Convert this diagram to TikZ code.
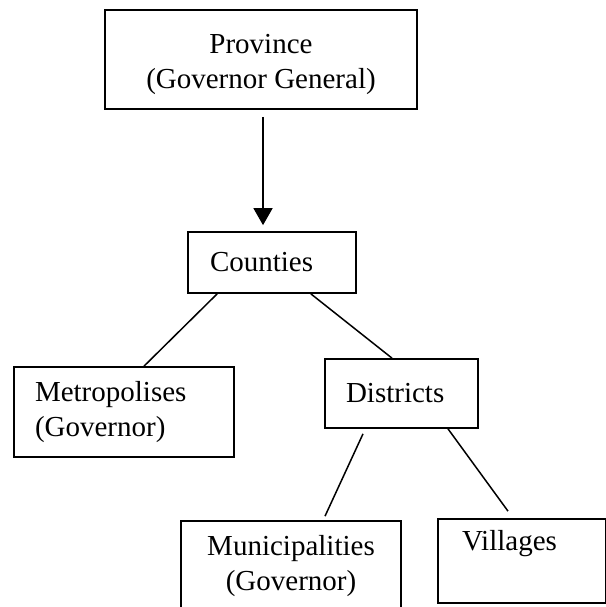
\documentclass[tikz,border=0pt]{standalone}
\usepackage{fontspec}
\setmainfont{Liberation Serif}
\usepackage{tikz}
\usetikzlibrary{arrows.meta}

\begin{document}
\begin{tikzpicture}[
    x=1pt, y=-1pt,
    block/.style={draw, rectangle, line width=1.7pt, inner ysep=0pt,
                  font=\fontsize{29}{35}\selectfont},
    leftblock/.style={block, align=left},
    arrow/.style={line width=1.6pt, -{Triangle[length=17pt, width=19pt]}},
    link/.style={line width=1.5pt}
]
\useasboundingbox (0,0) rectangle (605,607);

% Province at the top
\node[block, align=center, minimum width=312pt, minimum height=99pt,
      text height=64pt, text depth=5pt] (province) at (261,59.5)
  {Province\\(Governor General)};

% Counties
\node[leftblock, inner xsep=22pt, text width=124pt, minimum height=61pt] (counties) at (272,262.5)
  {Counties};

% Metropolises and Districts
\node[leftblock, inner xsep=21pt, text width=178pt, minimum height=90pt] (metro) at (124,412)
  {Metropolises\\(Governor)};
\node[leftblock, inner xsep=21pt, text width=111pt, minimum height=69pt] (districts) at (401.5,393.5)
  {Districts};

% Municipalities and Villages
\node[block, align=center, minimum width=220pt, minimum height=90pt] (municip) at (291,566)
  {Municipalities\\(Governor)};
\node[leftblock, inner xsep=24pt, text width=120pt, text height=31pt, text depth=53pt] (villages) at (522,561)
  {Villages};

% Arrow and links
\draw[arrow] ([xshift=2pt,yshift=-7pt]province.south) -- ([xshift=-9pt,yshift=6pt]counties.north);
\draw[link] ([xshift=30pt]counties.south west) -- ([xshift=20pt]metro.north);
\draw[link] ([xshift=-46pt]counties.south east) -- ([xshift=-9.5pt]districts.north);
\draw[link] ([xshift=-38.5pt,yshift=-5pt]districts.south) -- ([xshift=34pt,yshift=4pt]municip.north);
\draw[link] ([xshift=46.5pt]districts.south) -- ([xshift=-14pt,yshift=7pt]villages.north);

\end{tikzpicture}
\end{document}
